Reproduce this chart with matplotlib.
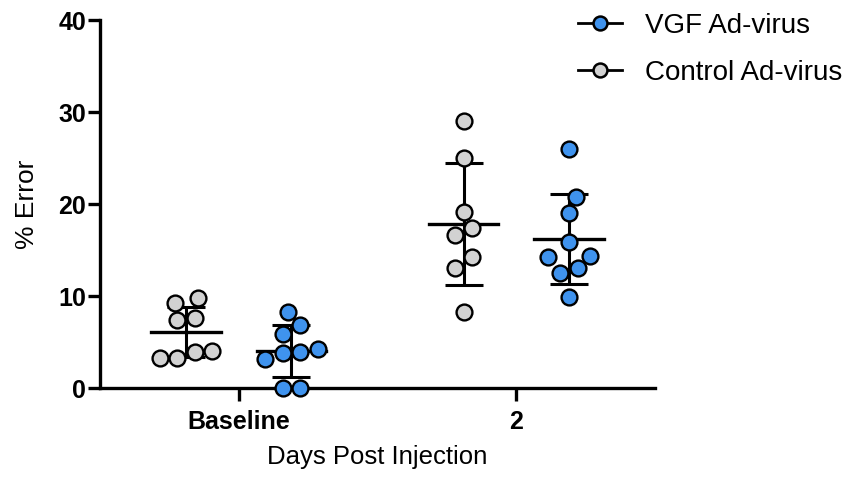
import numpy as np
import matplotlib
matplotlib.use('agg')
import matplotlib.pyplot as plt
from matplotlib.lines import Line2D

plt.rcParams['font.family'] = ['Liberation Sans', 'DejaVu Sans']

# data (% error per animal)
categories = ['Baseline', '2']
control_baseline = [9.75, 9.27, 7.58, 7.39, 3.95, 3.23, 3.23, 4.05]
vgf_baseline = [8.3, 6.85, 5.87, 4.2, 3.84, 3.15, 3.95, 0.0, 0.0]
control_day2 = [29.05, 24.97, 19.16, 17.36, 16.63, 14.27, 13.01, 8.29]
vgf_day2 = [25.95, 20.73, 18.99, 15.9, 14.35, 14.27, 13.01, 12.53, 9.92]

grey = '#d2d2d2'
blue = '#3f93ee'

fig = plt.figure(figsize=(8.6, 4.82), dpi=100)
ax = fig.add_axes([0.1163, 0.195, 0.6453, 0.7635])
ax.set_xlim(0, 4)
ax.set_ylim(0, 40)

# pixel scale, used to spread the points so circles do not overlap
px_x = 555 / 4.0
px_y = 368 / 40.0
diam = 17.5   # px
row_thr = 12  # px, points closer than this share a row


def spread(values):
    # Prism-like scatter: rows of near-equal values are centred side by side,
    # then pushed apart until they clear the rows below
    vals = np.asarray(values, dtype=float)
    order = np.argsort(vals)
    rows = []
    for i in order:
        if rows and (vals[i] - vals[rows[-1][0]]) * px_y < row_thr:
            rows[-1].append(i)
        else:
            rows.append([i])
    offs = np.zeros(len(vals))
    placed = []

    def free(cands, idx):
        for c, i in zip(cands, idx):
            y = vals[i] * px_y
            for px, py in placed:
                if (c - px) ** 2 + (y - py) ** 2 < diam ** 2 - 1e-6:
                    return False
        return True

    for row in rows:
        n = len(row)
        t = 0.0
        while True:
            if n == 1:
                tries = [[t], [-t]]
            else:
                tries = [[(k - (n - 1) / 2) * (diam + t) for k in range(n)]]
            ok = None
            for cands in tries:
                if free(cands, row):
                    ok = cands
                    break
            if ok is not None:
                break
            t += 0.5
        for c, i in zip(ok, row):
            offs[i] = c
            placed.append((c, vals[i] * px_y))
    return offs / px_x


groups = [
    (1 - 0.38, control_baseline, grey),
    (1 + 0.38, vgf_baseline, blue),
    (3 - 0.38, control_day2, grey),
    (3 + 0.38, vgf_day2, blue),
]

for xc, vals, col in groups:
    vals = np.array(vals)
    m = vals.mean()
    sd = vals.std(ddof=1)
    # mean line and SD bar
    ax.plot([xc - 0.249, xc + 0.249], [m, m], color='black', lw=2.4, zorder=2)
    ax.errorbar([xc], [m], yerr=[sd], fmt='none', ecolor='black', elinewidth=2.2,
                capsize=13.5, capthick=2.2, zorder=2)
    ax.scatter(xc + spread(vals), vals, s=130, facecolor=col, edgecolor='black',
               linewidth=1.7, zorder=3, clip_on=False)

for side in ['top', 'right']:
    ax.spines[side].set_visible(False)
for side in ['left', 'bottom']:
    ax.spines[side].set_linewidth(2.4)

ax.set_yticks([0, 10, 20, 30, 40])
ax.set_xticks([1, 3])
ax.set_xticklabels(categories)
ax.tick_params(axis='y', length=9, width=2.4, labelsize=18, pad=1)
ax.tick_params(axis='x', length=9, width=2.4, labelsize=18, pad=7)
for lab in ax.get_xticklabels() + ax.get_yticklabels():
    lab.set_fontweight('bold')

ax.set_ylabel('% Error', fontsize=19, labelpad=14)
ax.set_xlabel('Days Post Injection', fontsize=18.5, labelpad=8)

handles = [
    Line2D([], [], color='black', lw=2, marker='o', markersize=10,
           markerfacecolor=blue, markeredgecolor='black', markeredgewidth=1.8),
    Line2D([], [], color='black', lw=2, marker='o', markersize=10,
           markerfacecolor=grey, markeredgecolor='black', markeredgewidth=1.8),
]
fig.legend(handles, ['VGF Ad-virus', 'Control Ad-virus'], loc='upper left',
           bbox_to_anchor=(578 / 860, 1 - 13 / 482), frameon=False, fontsize=20,
           handlelength=1.6, handletextpad=0.8, labelspacing=0.75,
           borderpad=0, borderaxespad=0)

plt.savefig('out.png', dpi=100)
